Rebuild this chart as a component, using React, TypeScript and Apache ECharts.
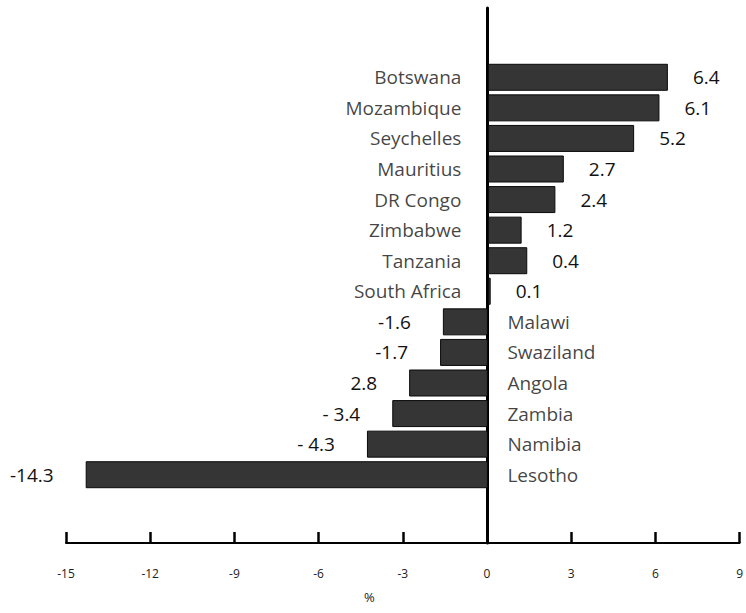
import React, { useEffect, useRef } from "react";
import * as echarts from "echarts";

const countries = [
  "Botswana", "Mozambique", "Seychelles", "Mauritius", "DR Congo", "Zimbabwe", "Tanzania",
  "South Africa", "Malawi", "Swaziland", "Angola", "Zambia", "Namibia", "Lesotho",
];
const barValues = [6.4, 6.1, 5.2, 2.7, 2.4, 1.2, 1.4, 0.1, -1.6, -1.7, -2.8, -3.4, -4.3, -14.3];
const valueLabels = ["6.4", "6.1", "5.2", "2.7", "2.4", "1.2", "0.4", "0.1", "-1.6", "-1.7", "2.8", "- 3.4", "- 4.3", "-14.3"];
const xMin = -15;
const xMax = 9;
const xStep = 3;
const axisName = "%";

const FONT = "Open Sans";

export default function App() {
  const ref = useRef<HTMLDivElement>(null);
  useEffect(() => {
    if (!ref.current) return;
    const chart = echarts.init(ref.current, undefined, { renderer: "svg" });
    const option: any = {
      animation: false,
      backgroundColor: "#ffffff",
      grid: [
        { left: 66, right: 5, top: 62, height: 428 },
        { left: 66, right: 5, top: 8, height: 535 },
      ],
      xAxis: [
        { gridIndex: 0, type: "value", min: xMin, max: xMax, interval: xStep, show: false },
        {
          gridIndex: 1, type: "value", min: xMin, max: xMax, interval: xStep,
          axisLine: { show: true, onZero: false, lineStyle: { color: "#000", width: 2 } },
          axisTick: { show: true, inside: true, length: 11, lineStyle: { color: "#000", width: 2.5 } },
          axisLabel: { show: true, margin: 24, fontFamily: FONT, fontSize: 12, color: "#222" },
          splitLine: { show: false },
        },
      ],
      yAxis: [
        { gridIndex: 0, type: "category", inverse: true, data: countries, show: false },
        {
          gridIndex: 1, type: "value", min: 0, max: 1,
          axisLine: { show: true, onZero: true, lineStyle: { color: "#000", width: 3 } },
          axisTick: { show: false }, axisLabel: { show: false }, splitLine: { show: false },
        },
      ],
      graphic: [
        {
          type: "text", left: 364, top: 590,
          style: { text: axisName, fontFamily: FONT, fontSize: 13, fill: "#222" },
        },
      ],
      series: [
        {
          type: "bar", xAxisIndex: 0, yAxisIndex: 0, barWidth: 27,
          itemStyle: { color: "#353535", borderColor: "#0a0a0a", borderWidth: 1 },
          data: barValues.map((v, i) => ({
            value: v,
            label: {
              show: true,
              position: v >= 0 ? "right" : "left",
              distance: v >= 0 ? 25 : 32,
              formatter: valueLabels[i],
              fontFamily: FONT, fontSize: 19, color: "#111",
            },
          })),
        },
        {
          type: "scatter", xAxisIndex: 0, yAxisIndex: 0, symbolSize: 1,
          itemStyle: { color: "rgba(0,0,0,0)" },
          data: countries.map((c, i) => ({
            value: [0, c],
            label: {
              show: true,
              position: barValues[i] >= 0 ? "left" : "right",
              distance: barValues[i] >= 0 ? 26 : 19,
              formatter: c,
              fontFamily: FONT, fontSize: 19, color: "#111",
            },
          })),
        },
      ],
    };
    chart.setOption(option);
    return () => chart.dispose();
  }, []);
  return <div ref={ref} style={{ position: "absolute", left: 0, top: 0, width: 746, height: 613 }} />;
}
